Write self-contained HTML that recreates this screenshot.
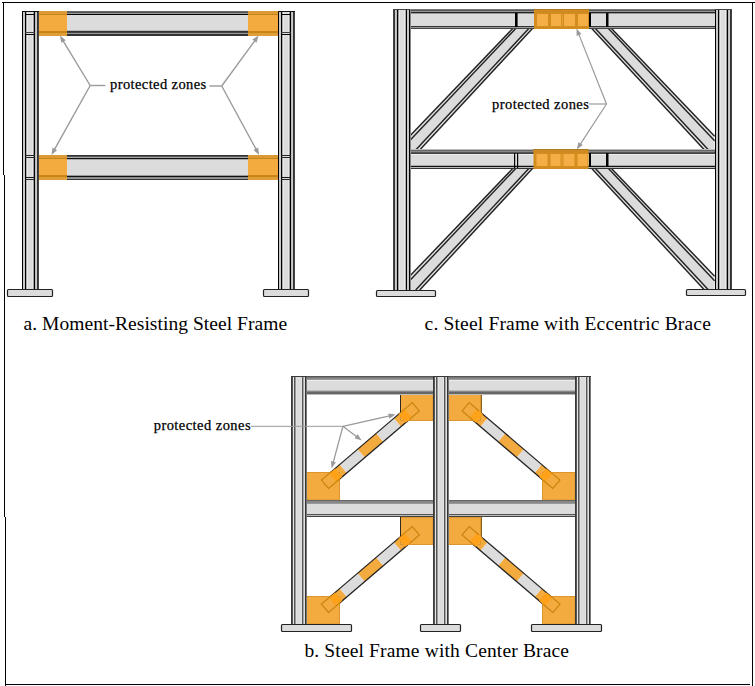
<!DOCTYPE html>
<html><head><meta charset="utf-8"><style>
html,body{margin:0;padding:0;background:#fff;}
svg{display:block;}
text{font-family:"Liberation Serif",serif;fill:#000;}
</style></head><body>
<svg width="755" height="686" viewBox="0 0 755 686">
<rect x="0" y="0" width="755" height="686" fill="#fff"/>
<rect x="2" y="2" width="753" height="1" fill="#000"/>
<rect x="3" y="2" width="1" height="173" fill="#000"/>
<rect x="4" y="175" width="1" height="342" fill="#000"/>
<rect x="5" y="517" width="1" height="169" fill="#000"/>
<rect x="752" y="2" width="1" height="684" fill="#000"/>
<rect x="5" y="684" width="745" height="1" fill="#000"/>
<rect x="39" y="11" width="239" height="1" fill="#666"/>
<rect x="39" y="12" width="239" height="1" fill="#555"/>
<rect x="39" y="13" width="239" height="1" fill="#999"/>
<rect x="39" y="14" width="239" height="1" fill="#000"/>
<rect x="39" y="15" width="239" height="1" fill="#dcdcdc"/>
<rect x="39" y="16" width="239" height="1" fill="#dcdcdc"/>
<rect x="39" y="17" width="239" height="1" fill="#dcdcdc"/>
<rect x="39" y="18" width="239" height="1" fill="#dcdcdc"/>
<rect x="39" y="19" width="239" height="1" fill="#dcdcdc"/>
<rect x="39" y="20" width="239" height="1" fill="#dcdcdc"/>
<rect x="39" y="21" width="239" height="1" fill="#dcdcdc"/>
<rect x="39" y="22" width="239" height="1" fill="#dcdcdc"/>
<rect x="39" y="23" width="239" height="1" fill="#dcdcdc"/>
<rect x="39" y="24" width="239" height="1" fill="#dcdcdc"/>
<rect x="39" y="25" width="239" height="1" fill="#dcdcdc"/>
<rect x="39" y="26" width="239" height="1" fill="#dcdcdc"/>
<rect x="39" y="27" width="239" height="1" fill="#dcdcdc"/>
<rect x="39" y="28" width="239" height="1" fill="#dcdcdc"/>
<rect x="39" y="29" width="239" height="1" fill="#dcdcdc"/>
<rect x="39" y="30" width="239" height="1" fill="#bbb"/>
<rect x="39" y="31" width="239" height="1" fill="#333"/>
<rect x="39" y="32" width="239" height="1" fill="#444"/>
<rect x="39" y="33" width="239" height="1" fill="#999"/>
<rect x="39" y="34" width="239" height="1" fill="#333"/>
<rect x="39" y="35" width="239" height="1" fill="#333"/>
<rect x="39" y="155" width="239" height="1" fill="#333"/>
<rect x="39" y="156" width="239" height="1" fill="#555"/>
<rect x="39" y="157" width="239" height="1" fill="#aaa"/>
<rect x="39" y="158" width="239" height="1" fill="#111"/>
<rect x="39" y="159" width="239" height="1" fill="#aaa"/>
<rect x="39" y="160" width="239" height="1" fill="#dcdcdc"/>
<rect x="39" y="161" width="239" height="1" fill="#dcdcdc"/>
<rect x="39" y="162" width="239" height="1" fill="#dcdcdc"/>
<rect x="39" y="163" width="239" height="1" fill="#dcdcdc"/>
<rect x="39" y="164" width="239" height="1" fill="#dcdcdc"/>
<rect x="39" y="165" width="239" height="1" fill="#dcdcdc"/>
<rect x="39" y="166" width="239" height="1" fill="#dcdcdc"/>
<rect x="39" y="167" width="239" height="1" fill="#dcdcdc"/>
<rect x="39" y="168" width="239" height="1" fill="#dcdcdc"/>
<rect x="39" y="169" width="239" height="1" fill="#dcdcdc"/>
<rect x="39" y="170" width="239" height="1" fill="#dcdcdc"/>
<rect x="39" y="171" width="239" height="1" fill="#dcdcdc"/>
<rect x="39" y="172" width="239" height="1" fill="#dcdcdc"/>
<rect x="39" y="173" width="239" height="1" fill="#dcdcdc"/>
<rect x="39" y="174" width="239" height="1" fill="#dcdcdc"/>
<rect x="39" y="175" width="239" height="1" fill="#999"/>
<rect x="39" y="176" width="239" height="1" fill="#111"/>
<rect x="39" y="177" width="239" height="1" fill="#888"/>
<rect x="39" y="178" width="239" height="1" fill="#999"/>
<rect x="39" y="179" width="239" height="1" fill="#333"/>
<rect x="39" y="11" width="28" height="25" fill="#f3aa3e"/>
<rect x="39" y="11" width="28" height="3" fill="#dc9a34"/>
<rect x="39" y="14" width="28" height="1" fill="#c98516"/>
<rect x="39" y="31" width="28" height="2" fill="#c98516"/>
<rect x="39" y="33" width="28" height="3" fill="#e09e38"/>
<rect x="248" y="11" width="30" height="25" fill="#f3aa3e"/>
<rect x="248" y="11" width="30" height="3" fill="#dc9a34"/>
<rect x="248" y="14" width="30" height="1" fill="#c98516"/>
<rect x="248" y="31" width="30" height="2" fill="#c98516"/>
<rect x="248" y="33" width="30" height="3" fill="#e09e38"/>
<rect x="39" y="155" width="28" height="25" fill="#f3aa3e"/>
<rect x="39" y="155" width="28" height="3" fill="#dc9a34"/>
<rect x="39" y="158" width="28" height="1" fill="#c98516"/>
<rect x="39" y="175" width="28" height="2" fill="#c98516"/>
<rect x="39" y="177" width="28" height="3" fill="#e09e38"/>
<rect x="248" y="155" width="30" height="25" fill="#f3aa3e"/>
<rect x="248" y="155" width="30" height="3" fill="#dc9a34"/>
<rect x="248" y="158" width="30" height="1" fill="#c98516"/>
<rect x="248" y="175" width="30" height="2" fill="#c98516"/>
<rect x="248" y="177" width="30" height="3" fill="#e09e38"/>
<rect x="22" y="11" width="1" height="278" fill="#000"/>
<rect x="23" y="11" width="1" height="278" fill="#c8c8c8"/>
<rect x="24" y="11" width="1" height="278" fill="#c8c8c8"/>
<rect x="25" y="11" width="1" height="278" fill="#000"/>
<rect x="26" y="11" width="1" height="278" fill="#aaa"/>
<rect x="27" y="11" width="1" height="278" fill="#e8e8e8"/>
<rect x="28" y="11" width="1" height="278" fill="#dcdcdc"/>
<rect x="29" y="11" width="1" height="278" fill="#dcdcdc"/>
<rect x="30" y="11" width="1" height="278" fill="#dcdcdc"/>
<rect x="31" y="11" width="1" height="278" fill="#dcdcdc"/>
<rect x="32" y="11" width="1" height="278" fill="#e8e8e8"/>
<rect x="33" y="11" width="1" height="278" fill="#999"/>
<rect x="34" y="11" width="1" height="278" fill="#000"/>
<rect x="35" y="11" width="1" height="278" fill="#bbb"/>
<rect x="36" y="11" width="1" height="278" fill="#ccc"/>
<rect x="37" y="11" width="1" height="278" fill="#333"/>
<rect x="38" y="11" width="1" height="278" fill="#444"/>
<rect x="278" y="11" width="1" height="278" fill="#000"/>
<rect x="279" y="11" width="1" height="278" fill="#c8c8c8"/>
<rect x="280" y="11" width="1" height="278" fill="#c8c8c8"/>
<rect x="281" y="11" width="1" height="278" fill="#000"/>
<rect x="282" y="11" width="1" height="278" fill="#aaa"/>
<rect x="283" y="11" width="1" height="278" fill="#e8e8e8"/>
<rect x="284" y="11" width="1" height="278" fill="#dcdcdc"/>
<rect x="285" y="11" width="1" height="278" fill="#dcdcdc"/>
<rect x="286" y="11" width="1" height="278" fill="#dcdcdc"/>
<rect x="287" y="11" width="1" height="278" fill="#dcdcdc"/>
<rect x="288" y="11" width="1" height="278" fill="#e8e8e8"/>
<rect x="289" y="11" width="1" height="278" fill="#999"/>
<rect x="290" y="11" width="1" height="278" fill="#000"/>
<rect x="291" y="11" width="1" height="278" fill="#bbb"/>
<rect x="292" y="11" width="1" height="278" fill="#ccc"/>
<rect x="293" y="11" width="1" height="278" fill="#333"/>
<rect x="294" y="11" width="1" height="278" fill="#444"/>
<rect x="22" y="11" width="17" height="1" fill="#111"/>
<rect x="25" y="14" width="10" height="1" fill="#000"/>
<rect x="25" y="32" width="10" height="1" fill="#3a3a3a"/>
<rect x="25" y="34" width="10" height="1" fill="#000"/>
<rect x="25" y="155" width="10" height="1" fill="#222"/>
<rect x="25" y="157" width="10" height="1" fill="#222"/>
<rect x="25" y="177" width="10" height="1" fill="#111"/>
<rect x="25" y="179" width="10" height="1" fill="#222"/>
<rect x="278" y="11" width="17" height="1" fill="#111"/>
<rect x="281" y="14" width="10" height="1" fill="#000"/>
<rect x="281" y="32" width="10" height="1" fill="#3a3a3a"/>
<rect x="281" y="34" width="10" height="1" fill="#000"/>
<rect x="281" y="155" width="10" height="1" fill="#222"/>
<rect x="281" y="157" width="10" height="1" fill="#222"/>
<rect x="281" y="177" width="10" height="1" fill="#111"/>
<rect x="281" y="179" width="10" height="1" fill="#222"/>
<rect x="7.5" y="289.5" width="45" height="7" rx="1" fill="#dcdcdc" stroke="#222" stroke-width="1.2"/>
<rect x="263.5" y="289.5" width="45" height="7" rx="1" fill="#dcdcdc" stroke="#222" stroke-width="1.2"/>
<polygon points="513.20,28.00 532.90,28.00 419.70,150.00 410.00,150.00 409.60,136.30" fill="#e4e4e4"/>
<polygon points="516.20,28.00 529.30,28.00 415.70,150.00 410.00,150.00 409.60,140.70" fill="#dcdcdc"/>
<polygon points="516.20,28.00 529.30,28.00 415.70,150.00 409.60,140.70" fill="#dcdcdc"/>
<line x1="513.20" y1="28.00" x2="409.60" y2="136.30" stroke="#222" stroke-width="1.45"/>
<line x1="516.20" y1="28.00" x2="409.60" y2="140.70" stroke="#222" stroke-width="1.45"/>
<line x1="529.30" y1="28.00" x2="415.70" y2="150.00" stroke="#222" stroke-width="1.45"/>
<line x1="532.90" y1="28.00" x2="419.70" y2="150.00" stroke="#222" stroke-width="1.45"/>
<polygon points="611.00,28.00 591.30,28.00 704.50,150.00 714.20,150.00 714.60,136.30" fill="#e4e4e4"/>
<polygon points="608.00,28.00 594.90,28.00 708.50,150.00 714.20,150.00 714.60,140.70" fill="#dcdcdc"/>
<polygon points="608.00,28.00 594.90,28.00 708.50,150.00 714.60,140.70" fill="#dcdcdc"/>
<line x1="611.00" y1="28.00" x2="714.60" y2="136.30" stroke="#222" stroke-width="1.45"/>
<line x1="608.00" y1="28.00" x2="714.60" y2="140.70" stroke="#222" stroke-width="1.45"/>
<line x1="594.90" y1="28.00" x2="708.50" y2="150.00" stroke="#222" stroke-width="1.45"/>
<line x1="591.30" y1="28.00" x2="704.50" y2="150.00" stroke="#222" stroke-width="1.45"/>
<polygon points="513.20,168.00 532.90,168.00 419.70,290.00 410.00,290.00 409.60,276.30" fill="#e4e4e4"/>
<polygon points="516.20,168.00 529.30,168.00 415.70,290.00 410.00,290.00 409.60,280.70" fill="#dcdcdc"/>
<polygon points="516.20,168.00 529.30,168.00 415.70,290.00 409.60,280.70" fill="#dcdcdc"/>
<line x1="513.20" y1="168.00" x2="409.60" y2="276.30" stroke="#222" stroke-width="1.45"/>
<line x1="516.20" y1="168.00" x2="409.60" y2="280.70" stroke="#222" stroke-width="1.45"/>
<line x1="529.30" y1="168.00" x2="415.70" y2="290.00" stroke="#222" stroke-width="1.45"/>
<line x1="532.90" y1="168.00" x2="419.70" y2="290.00" stroke="#222" stroke-width="1.45"/>
<polygon points="611.00,168.00 591.30,168.00 704.50,290.00 714.20,290.00 714.60,276.30" fill="#e4e4e4"/>
<polygon points="608.00,168.00 594.90,168.00 708.50,290.00 714.20,290.00 714.60,280.70" fill="#dcdcdc"/>
<polygon points="608.00,168.00 594.90,168.00 708.50,290.00 714.60,280.70" fill="#dcdcdc"/>
<line x1="611.00" y1="168.00" x2="714.60" y2="276.30" stroke="#222" stroke-width="1.45"/>
<line x1="608.00" y1="168.00" x2="714.60" y2="280.70" stroke="#222" stroke-width="1.45"/>
<line x1="594.90" y1="168.00" x2="708.50" y2="290.00" stroke="#222" stroke-width="1.45"/>
<line x1="591.30" y1="168.00" x2="704.50" y2="290.00" stroke="#222" stroke-width="1.45"/>
<rect x="410" y="9" width="305" height="1" fill="#777"/>
<rect x="410" y="10" width="305" height="1" fill="#555"/>
<rect x="410" y="11" width="305" height="1" fill="#999"/>
<rect x="410" y="12" width="305" height="1" fill="#222"/>
<rect x="410" y="13" width="305" height="1" fill="#999"/>
<rect x="410" y="14" width="305" height="1" fill="#dcdcdc"/>
<rect x="410" y="15" width="305" height="1" fill="#dcdcdc"/>
<rect x="410" y="16" width="305" height="1" fill="#dcdcdc"/>
<rect x="410" y="17" width="305" height="1" fill="#dcdcdc"/>
<rect x="410" y="18" width="305" height="1" fill="#dcdcdc"/>
<rect x="410" y="19" width="305" height="1" fill="#dcdcdc"/>
<rect x="410" y="20" width="305" height="1" fill="#dcdcdc"/>
<rect x="410" y="21" width="305" height="1" fill="#dcdcdc"/>
<rect x="410" y="22" width="305" height="1" fill="#dcdcdc"/>
<rect x="410" y="23" width="305" height="1" fill="#dcdcdc"/>
<rect x="410" y="24" width="305" height="1" fill="#dcdcdc"/>
<rect x="410" y="25" width="305" height="1" fill="#dcdcdc"/>
<rect x="410" y="26" width="305" height="1" fill="#333"/>
<rect x="410" y="27" width="305" height="1" fill="#999"/>
<rect x="410" y="28" width="305" height="1" fill="#444"/>
<rect x="410" y="149" width="305" height="1" fill="#bbb"/>
<rect x="410" y="150" width="305" height="1" fill="#666"/>
<rect x="410" y="151" width="305" height="1" fill="#888"/>
<rect x="410" y="152" width="305" height="1" fill="#555"/>
<rect x="410" y="153" width="305" height="1" fill="#444"/>
<rect x="410" y="154" width="305" height="1" fill="#eee"/>
<rect x="410" y="155" width="305" height="1" fill="#dcdcdc"/>
<rect x="410" y="156" width="305" height="1" fill="#dcdcdc"/>
<rect x="410" y="157" width="305" height="1" fill="#dcdcdc"/>
<rect x="410" y="158" width="305" height="1" fill="#dcdcdc"/>
<rect x="410" y="159" width="305" height="1" fill="#dcdcdc"/>
<rect x="410" y="160" width="305" height="1" fill="#dcdcdc"/>
<rect x="410" y="161" width="305" height="1" fill="#dcdcdc"/>
<rect x="410" y="162" width="305" height="1" fill="#dcdcdc"/>
<rect x="410" y="163" width="305" height="1" fill="#dcdcdc"/>
<rect x="410" y="164" width="305" height="1" fill="#dcdcdc"/>
<rect x="410" y="165" width="305" height="1" fill="#aaa"/>
<rect x="410" y="166" width="305" height="1" fill="#111"/>
<rect x="410" y="167" width="305" height="1" fill="#bbb"/>
<rect x="410" y="168" width="305" height="1" fill="#333"/>
<rect x="534" y="9" width="55" height="20" fill="#d38c1e"/>
<rect x="534" y="9" width="55" height="1" fill="#b07820"/>
<rect x="534" y="10" width="55" height="3" fill="#cf8a22"/>
<rect x="537" y="14" width="11" height="12" fill="#f5ad45"/>
<rect x="551" y="14" width="10" height="12" fill="#f5ad45"/>
<rect x="564" y="14" width="11" height="12" fill="#f5ad45"/>
<rect x="578" y="14" width="10" height="12" fill="#f5ad45"/>
<rect x="562" y="14" width="1" height="12" fill="#e8a030"/>
<rect x="533.5" y="149" width="55" height="20" fill="#d38c1e"/>
<rect x="533.5" y="149" width="55" height="1" fill="#b07820"/>
<rect x="533.5" y="150" width="55" height="3" fill="#cf8a22"/>
<rect x="536.5" y="154" width="11" height="12" fill="#f5ad45"/>
<rect x="550.5" y="154" width="10" height="12" fill="#f5ad45"/>
<rect x="563.5" y="154" width="11" height="12" fill="#f5ad45"/>
<rect x="577.5" y="154" width="10" height="12" fill="#f5ad45"/>
<rect x="561.5" y="154" width="1" height="12" fill="#e8a030"/>
<rect x="515" y="13" width="2.6" height="14" fill="#000"/>
<rect x="589" y="13" width="2" height="14" fill="#000"/>
<rect x="606" y="13" width="2.5" height="14" fill="#050505"/>
<rect x="514" y="153" width="1.2" height="15" fill="#000"/>
<rect x="517" y="153" width="1.2" height="15" fill="#000"/>
<rect x="589" y="153" width="2" height="14" fill="#000"/>
<rect x="606" y="153" width="2.5" height="14" fill="#050505"/>
<rect x="393" y="9" width="1" height="281" fill="#444"/>
<rect x="394" y="9" width="1" height="281" fill="#333"/>
<rect x="395" y="9" width="1" height="281" fill="#ccc"/>
<rect x="396" y="9" width="1" height="281" fill="#bbb"/>
<rect x="397" y="9" width="1" height="281" fill="#000"/>
<rect x="398" y="9" width="1" height="281" fill="#999"/>
<rect x="399" y="9" width="1" height="281" fill="#e8e8e8"/>
<rect x="400" y="9" width="1" height="281" fill="#dcdcdc"/>
<rect x="401" y="9" width="1" height="281" fill="#dcdcdc"/>
<rect x="402" y="9" width="1" height="281" fill="#dcdcdc"/>
<rect x="403" y="9" width="1" height="281" fill="#dcdcdc"/>
<rect x="404" y="9" width="1" height="281" fill="#e8e8e8"/>
<rect x="405" y="9" width="1" height="281" fill="#aaa"/>
<rect x="406" y="9" width="1" height="281" fill="#000"/>
<rect x="407" y="9" width="1" height="281" fill="#c8c8c8"/>
<rect x="408" y="9" width="1" height="281" fill="#c8c8c8"/>
<rect x="409" y="9" width="1" height="281" fill="#000"/>
<rect x="410" y="9" width="1" height="281" fill="#888"/>
<rect x="715" y="9" width="1" height="281" fill="#000"/>
<rect x="716" y="9" width="1" height="281" fill="#c8c8c8"/>
<rect x="717" y="9" width="1" height="281" fill="#c8c8c8"/>
<rect x="718" y="9" width="1" height="281" fill="#000"/>
<rect x="719" y="9" width="1" height="281" fill="#aaa"/>
<rect x="720" y="9" width="1" height="281" fill="#e8e8e8"/>
<rect x="721" y="9" width="1" height="281" fill="#dcdcdc"/>
<rect x="722" y="9" width="1" height="281" fill="#dcdcdc"/>
<rect x="723" y="9" width="1" height="281" fill="#dcdcdc"/>
<rect x="724" y="9" width="1" height="281" fill="#dcdcdc"/>
<rect x="725" y="9" width="1" height="281" fill="#e8e8e8"/>
<rect x="726" y="9" width="1" height="281" fill="#999"/>
<rect x="727" y="9" width="1" height="281" fill="#000"/>
<rect x="728" y="9" width="1" height="281" fill="#bbb"/>
<rect x="729" y="9" width="1" height="281" fill="#ccc"/>
<rect x="730" y="9" width="1" height="281" fill="#333"/>
<rect x="731" y="9" width="1" height="281" fill="#444"/>
<rect x="393" y="9" width="17" height="1" fill="#444"/>
<rect x="715" y="9" width="17" height="1" fill="#444"/>
<rect x="376.5" y="290.5" width="59" height="6" rx="1" fill="#dcdcdc" stroke="#222" stroke-width="1.2"/>
<rect x="686.5" y="289.5" width="59" height="6" rx="1" fill="#dcdcdc" stroke="#222" stroke-width="1.2"/>
<polygon points="321.43,480.12 339.68,464.53 346.82,472.90 328.57,488.48" fill="#f3aa3e"/>
<polygon points="339.68,464.53 357.70,449.14 364.84,457.51 346.82,472.90" fill="#dcdcdc"/>
<polygon points="357.70,449.14 376.18,433.36 383.32,441.72 364.84,457.51" fill="#f3aa3e"/>
<polygon points="376.18,433.36 393.90,418.23 401.04,426.59 383.32,441.72" fill="#dcdcdc"/>
<polygon points="393.90,418.23 412.18,402.62 419.32,410.98 401.04,426.59" fill="#f3aa3e"/>
<line x1="321.43" y1="480.12" x2="412.18" y2="402.62" stroke="#222" stroke-width="1.3"/>
<line x1="328.57" y1="488.48" x2="419.32" y2="410.98" stroke="#222" stroke-width="1.3"/>
<polygon points="552.83,488.48 534.58,472.90 541.72,464.53 559.97,480.12" fill="#f3aa3e"/>
<polygon points="534.58,472.90 516.56,457.51 523.70,449.14 541.72,464.53" fill="#dcdcdc"/>
<polygon points="516.56,457.51 498.08,441.72 505.22,433.36 523.70,449.14" fill="#f3aa3e"/>
<polygon points="498.08,441.72 480.36,426.59 487.50,418.23 505.22,433.36" fill="#dcdcdc"/>
<polygon points="480.36,426.59 462.08,410.98 469.22,402.62 487.50,418.23" fill="#f3aa3e"/>
<line x1="552.83" y1="488.48" x2="462.08" y2="410.98" stroke="#222" stroke-width="1.3"/>
<line x1="559.97" y1="480.12" x2="469.22" y2="402.62" stroke="#222" stroke-width="1.3"/>
<polygon points="321.43,604.12 339.68,588.53 346.82,596.90 328.57,612.48" fill="#f3aa3e"/>
<polygon points="339.68,588.53 357.70,573.14 364.84,581.51 346.82,596.90" fill="#dcdcdc"/>
<polygon points="357.70,573.14 376.18,557.36 383.32,565.72 364.84,581.51" fill="#f3aa3e"/>
<polygon points="376.18,557.36 393.90,542.23 401.04,550.59 383.32,565.72" fill="#dcdcdc"/>
<polygon points="393.90,542.23 412.18,526.62 419.32,534.98 401.04,550.59" fill="#f3aa3e"/>
<line x1="321.43" y1="604.12" x2="412.18" y2="526.62" stroke="#222" stroke-width="1.3"/>
<line x1="328.57" y1="612.48" x2="419.32" y2="534.98" stroke="#222" stroke-width="1.3"/>
<polygon points="552.83,612.48 534.58,596.90 541.72,588.53 559.97,604.12" fill="#f3aa3e"/>
<polygon points="534.58,596.90 516.56,581.51 523.70,573.14 541.72,588.53" fill="#dcdcdc"/>
<polygon points="516.56,581.51 498.08,565.72 505.22,557.36 523.70,573.14" fill="#f3aa3e"/>
<polygon points="498.08,565.72 480.36,550.59 487.50,542.23 505.22,557.36" fill="#dcdcdc"/>
<polygon points="480.36,550.59 462.08,534.98 469.22,526.62 487.50,542.23" fill="#f3aa3e"/>
<line x1="552.83" y1="612.48" x2="462.08" y2="534.98" stroke="#222" stroke-width="1.3"/>
<line x1="559.97" y1="604.12" x2="469.22" y2="526.62" stroke="#222" stroke-width="1.3"/>
<rect x="400.5" y="393.5" width="32.5" height="27.0" fill="#f3aa3e" stroke="#d9962c" stroke-width="1"/>
<rect x="448" y="393.5" width="32.5" height="27.0" fill="#f3aa3e" stroke="#d9962c" stroke-width="1"/>
<rect x="306" y="472.5" width="33.5" height="27.5" fill="#f3aa3e" stroke="#d9962c" stroke-width="1"/>
<rect x="542.5" y="472.5" width="32.5" height="27.5" fill="#f3aa3e" stroke="#d9962c" stroke-width="1"/>
<rect x="400.5" y="517.5" width="32.5" height="27.0" fill="#f3aa3e" stroke="#d9962c" stroke-width="1"/>
<rect x="448" y="517.5" width="32.5" height="27.0" fill="#f3aa3e" stroke="#d9962c" stroke-width="1"/>
<rect x="306" y="596.5" width="33.5" height="27.5" fill="#f3aa3e" stroke="#d9962c" stroke-width="1"/>
<rect x="542.5" y="596.5" width="32.5" height="27.5" fill="#f3aa3e" stroke="#d9962c" stroke-width="1"/>
<polygon points="329.03,473.62 335.12,468.43 342.26,476.79 336.18,481.99" fill="#ffa21a"/>
<polygon points="398.49,414.31 404.57,409.11 411.72,417.48 405.63,422.67" fill="#ffa21a"/>
<polyline points="331.31,471.68 321.43,480.12 328.57,488.48 339.98,478.74" fill="none" stroke="#c8840f" stroke-width="1.2"/>
<polyline points="400.77,412.36 412.18,402.62 419.32,410.98 409.44,419.42" fill="none" stroke="#c8840f" stroke-width="1.2"/>
<polygon points="545.22,481.99 539.14,476.79 546.28,468.43 552.37,473.62" fill="#ffa21a"/>
<polygon points="475.77,422.67 469.68,417.48 476.83,409.11 482.91,414.31" fill="#ffa21a"/>
<polyline points="542.94,480.04 552.83,488.48 559.97,480.12 548.57,470.38" fill="none" stroke="#c8840f" stroke-width="1.2"/>
<polyline points="473.48,420.72 462.08,410.98 469.22,402.62 479.11,411.06" fill="none" stroke="#c8840f" stroke-width="1.2"/>
<polygon points="329.03,597.62 335.12,592.43 342.26,600.79 336.18,605.99" fill="#ffa21a"/>
<polygon points="398.49,538.31 404.57,533.11 411.72,541.48 405.63,546.67" fill="#ffa21a"/>
<polyline points="331.31,595.68 321.43,604.12 328.57,612.48 339.98,602.74" fill="none" stroke="#c8840f" stroke-width="1.2"/>
<polyline points="400.77,536.36 412.18,526.62 419.32,534.98 409.44,543.42" fill="none" stroke="#c8840f" stroke-width="1.2"/>
<polygon points="545.22,605.99 539.14,600.79 546.28,592.43 552.37,597.62" fill="#ffa21a"/>
<polygon points="475.77,546.67 469.68,541.48 476.83,533.11 482.91,538.31" fill="#ffa21a"/>
<polyline points="542.94,604.04 552.83,612.48 559.97,604.12 548.57,594.38" fill="none" stroke="#c8840f" stroke-width="1.2"/>
<polyline points="473.48,544.72 462.08,534.98 469.22,526.62 479.11,535.06" fill="none" stroke="#c8840f" stroke-width="1.2"/>
<rect x="400" y="393" width="1" height="19.5" fill="#2e2a22"/>
<rect x="481" y="393" width="1" height="19.5" fill="#8a6420"/>
<rect x="400" y="517" width="1" height="19.5" fill="#2e2a22"/>
<rect x="481" y="517" width="1" height="19.5" fill="#8a6420"/>
<rect x="306" y="376" width="127" height="1" fill="#555"/>
<rect x="306" y="377" width="127" height="1" fill="#777"/>
<rect x="306" y="378" width="127" height="1" fill="#888"/>
<rect x="306" y="379" width="127" height="1" fill="#999"/>
<rect x="306" y="380" width="127" height="1" fill="#eee"/>
<rect x="306" y="381" width="127" height="1" fill="#dcdcdc"/>
<rect x="306" y="382" width="127" height="1" fill="#dcdcdc"/>
<rect x="306" y="383" width="127" height="1" fill="#dcdcdc"/>
<rect x="306" y="384" width="127" height="1" fill="#dcdcdc"/>
<rect x="306" y="385" width="127" height="1" fill="#dcdcdc"/>
<rect x="306" y="386" width="127" height="1" fill="#dcdcdc"/>
<rect x="306" y="387" width="127" height="1" fill="#dcdcdc"/>
<rect x="306" y="388" width="127" height="1" fill="#dcdcdc"/>
<rect x="306" y="389" width="127" height="1" fill="#dcdcdc"/>
<rect x="306" y="390" width="127" height="1" fill="#bbb"/>
<rect x="306" y="391" width="127" height="1" fill="#888"/>
<rect x="306" y="392" width="127" height="1" fill="#666"/>
<rect x="306" y="393" width="127" height="1" fill="#666"/>
<rect x="306" y="394" width="127" height="1" fill="#bbb"/>
<rect x="448" y="376" width="127" height="1" fill="#555"/>
<rect x="448" y="377" width="127" height="1" fill="#777"/>
<rect x="448" y="378" width="127" height="1" fill="#888"/>
<rect x="448" y="379" width="127" height="1" fill="#999"/>
<rect x="448" y="380" width="127" height="1" fill="#eee"/>
<rect x="448" y="381" width="127" height="1" fill="#dcdcdc"/>
<rect x="448" y="382" width="127" height="1" fill="#dcdcdc"/>
<rect x="448" y="383" width="127" height="1" fill="#dcdcdc"/>
<rect x="448" y="384" width="127" height="1" fill="#dcdcdc"/>
<rect x="448" y="385" width="127" height="1" fill="#dcdcdc"/>
<rect x="448" y="386" width="127" height="1" fill="#dcdcdc"/>
<rect x="448" y="387" width="127" height="1" fill="#dcdcdc"/>
<rect x="448" y="388" width="127" height="1" fill="#dcdcdc"/>
<rect x="448" y="389" width="127" height="1" fill="#dcdcdc"/>
<rect x="448" y="390" width="127" height="1" fill="#bbb"/>
<rect x="448" y="391" width="127" height="1" fill="#888"/>
<rect x="448" y="392" width="127" height="1" fill="#666"/>
<rect x="448" y="393" width="127" height="1" fill="#666"/>
<rect x="448" y="394" width="127" height="1" fill="#bbb"/>
<rect x="306" y="500" width="127" height="1" fill="#666"/>
<rect x="306" y="501" width="127" height="1" fill="#888"/>
<rect x="306" y="502" width="127" height="1" fill="#888"/>
<rect x="306" y="503" width="127" height="1" fill="#999"/>
<rect x="306" y="504" width="127" height="1" fill="#dcdcdc"/>
<rect x="306" y="505" width="127" height="1" fill="#dcdcdc"/>
<rect x="306" y="506" width="127" height="1" fill="#dcdcdc"/>
<rect x="306" y="507" width="127" height="1" fill="#dcdcdc"/>
<rect x="306" y="508" width="127" height="1" fill="#dcdcdc"/>
<rect x="306" y="509" width="127" height="1" fill="#dcdcdc"/>
<rect x="306" y="510" width="127" height="1" fill="#dcdcdc"/>
<rect x="306" y="511" width="127" height="1" fill="#dcdcdc"/>
<rect x="306" y="512" width="127" height="1" fill="#dcdcdc"/>
<rect x="306" y="513" width="127" height="1" fill="#dcdcdc"/>
<rect x="306" y="514" width="127" height="1" fill="#555"/>
<rect x="306" y="515" width="127" height="1" fill="#bbb"/>
<rect x="306" y="516" width="127" height="1" fill="#444"/>
<rect x="448" y="500" width="127" height="1" fill="#666"/>
<rect x="448" y="501" width="127" height="1" fill="#888"/>
<rect x="448" y="502" width="127" height="1" fill="#888"/>
<rect x="448" y="503" width="127" height="1" fill="#999"/>
<rect x="448" y="504" width="127" height="1" fill="#dcdcdc"/>
<rect x="448" y="505" width="127" height="1" fill="#dcdcdc"/>
<rect x="448" y="506" width="127" height="1" fill="#dcdcdc"/>
<rect x="448" y="507" width="127" height="1" fill="#dcdcdc"/>
<rect x="448" y="508" width="127" height="1" fill="#dcdcdc"/>
<rect x="448" y="509" width="127" height="1" fill="#dcdcdc"/>
<rect x="448" y="510" width="127" height="1" fill="#dcdcdc"/>
<rect x="448" y="511" width="127" height="1" fill="#dcdcdc"/>
<rect x="448" y="512" width="127" height="1" fill="#dcdcdc"/>
<rect x="448" y="513" width="127" height="1" fill="#dcdcdc"/>
<rect x="448" y="514" width="127" height="1" fill="#555"/>
<rect x="448" y="515" width="127" height="1" fill="#bbb"/>
<rect x="448" y="516" width="127" height="1" fill="#444"/>
<rect x="291" y="376" width="1" height="248" fill="#3a3a3a"/>
<rect x="292" y="376" width="1" height="248" fill="#555"/>
<rect x="293" y="376" width="1" height="248" fill="#e6e6e6"/>
<rect x="294" y="376" width="1" height="248" fill="#555"/>
<rect x="295" y="376" width="1" height="248" fill="#999"/>
<rect x="296" y="376" width="1" height="248" fill="#e0e0e0"/>
<rect x="297" y="376" width="1" height="248" fill="#dcdcdc"/>
<rect x="298" y="376" width="1" height="248" fill="#dcdcdc"/>
<rect x="299" y="376" width="1" height="248" fill="#dcdcdc"/>
<rect x="300" y="376" width="1" height="248" fill="#dcdcdc"/>
<rect x="301" y="376" width="1" height="248" fill="#e4e4e4"/>
<rect x="302" y="376" width="1" height="248" fill="#555"/>
<rect x="303" y="376" width="1" height="248" fill="#aaa"/>
<rect x="304" y="376" width="1" height="248" fill="#e0e0e0"/>
<rect x="305" y="376" width="1" height="248" fill="#333"/>
<rect x="306" y="376" width="1" height="248" fill="#777"/>
<rect x="433" y="376" width="1" height="248" fill="#3a3a3a"/>
<rect x="434" y="376" width="1" height="248" fill="#555"/>
<rect x="435" y="376" width="1" height="248" fill="#e6e6e6"/>
<rect x="436" y="376" width="1" height="248" fill="#555"/>
<rect x="437" y="376" width="1" height="248" fill="#999"/>
<rect x="438" y="376" width="1" height="248" fill="#e0e0e0"/>
<rect x="439" y="376" width="1" height="248" fill="#dcdcdc"/>
<rect x="440" y="376" width="1" height="248" fill="#dcdcdc"/>
<rect x="441" y="376" width="1" height="248" fill="#dcdcdc"/>
<rect x="442" y="376" width="1" height="248" fill="#dcdcdc"/>
<rect x="443" y="376" width="1" height="248" fill="#e4e4e4"/>
<rect x="444" y="376" width="1" height="248" fill="#555"/>
<rect x="445" y="376" width="1" height="248" fill="#aaa"/>
<rect x="446" y="376" width="1" height="248" fill="#e0e0e0"/>
<rect x="447" y="376" width="1" height="248" fill="#333"/>
<rect x="448" y="376" width="1" height="248" fill="#777"/>
<rect x="575" y="376" width="1" height="248" fill="#3a3a3a"/>
<rect x="576" y="376" width="1" height="248" fill="#555"/>
<rect x="577" y="376" width="1" height="248" fill="#e6e6e6"/>
<rect x="578" y="376" width="1" height="248" fill="#555"/>
<rect x="579" y="376" width="1" height="248" fill="#999"/>
<rect x="580" y="376" width="1" height="248" fill="#e0e0e0"/>
<rect x="581" y="376" width="1" height="248" fill="#dcdcdc"/>
<rect x="582" y="376" width="1" height="248" fill="#dcdcdc"/>
<rect x="583" y="376" width="1" height="248" fill="#dcdcdc"/>
<rect x="584" y="376" width="1" height="248" fill="#dcdcdc"/>
<rect x="585" y="376" width="1" height="248" fill="#e4e4e4"/>
<rect x="586" y="376" width="1" height="248" fill="#555"/>
<rect x="587" y="376" width="1" height="248" fill="#aaa"/>
<rect x="588" y="376" width="1" height="248" fill="#e0e0e0"/>
<rect x="589" y="376" width="1" height="248" fill="#333"/>
<rect x="590" y="376" width="1" height="248" fill="#777"/>
<rect x="291" y="376" width="16" height="1" fill="#3a3a3a"/>
<rect x="433" y="376" width="16" height="1" fill="#3a3a3a"/>
<rect x="575" y="376" width="16" height="1" fill="#3a3a3a"/>
<rect x="281.5" y="624.5" width="70" height="7" rx="1" fill="#dcdcdc" stroke="#222" stroke-width="1.2"/>
<rect x="420.5" y="624.5" width="40" height="7" rx="1" fill="#dcdcdc" stroke="#222" stroke-width="1.2"/>
<rect x="531.5" y="624.5" width="70" height="7" rx="1" fill="#dcdcdc" stroke="#222" stroke-width="1.2"/>
<line x1="90.20" y1="85.50" x2="105.30" y2="85.50" stroke="#9a9a9a" stroke-width="1.4"/>
<line x1="90.20" y1="85.50" x2="62.49" y2="39.78" stroke="#9a9a9a" stroke-width="1.4"/>
<polygon points="59.90,35.50 65.75,40.14 61.30,42.83" fill="#9a9a9a"/>
<line x1="90.20" y1="85.50" x2="53.84" y2="150.63" stroke="#9a9a9a" stroke-width="1.4"/>
<polygon points="51.40,155.00 52.54,147.62 57.08,150.16" fill="#9a9a9a"/>
<line x1="209.40" y1="86.00" x2="221.70" y2="86.00" stroke="#9a9a9a" stroke-width="1.4"/>
<line x1="221.70" y1="86.00" x2="255.65" y2="39.54" stroke="#9a9a9a" stroke-width="1.4"/>
<polygon points="258.60,35.50 256.57,42.69 252.37,39.62" fill="#9a9a9a"/>
<line x1="221.70" y1="86.00" x2="256.81" y2="150.61" stroke="#9a9a9a" stroke-width="1.4"/>
<polygon points="259.20,155.00 253.57,150.09 258.14,147.61" fill="#9a9a9a"/>
<line x1="589.20" y1="104.00" x2="606.50" y2="104.00" stroke="#9a9a9a" stroke-width="1.2"/>
<line x1="606.50" y1="104.00" x2="578.35" y2="33.15" stroke="#9a9a9a" stroke-width="1.2"/>
<polygon points="576.50,28.50 581.50,34.05 576.67,35.97" fill="#9a9a9a"/>
<line x1="606.50" y1="104.00" x2="579.53" y2="145.31" stroke="#9a9a9a" stroke-width="1.2"/>
<polygon points="576.80,149.50 578.45,142.22 582.80,145.06" fill="#9a9a9a"/>
<line x1="251.00" y1="426.30" x2="342.90" y2="426.30" stroke="#9a9a9a" stroke-width="1.0"/>
<line x1="342.90" y1="426.30" x2="390.72" y2="415.68" stroke="#9a9a9a" stroke-width="1.3"/>
<polygon points="395.60,414.60 389.33,418.66 388.20,413.58" fill="#9a9a9a"/>
<line x1="342.90" y1="426.30" x2="357.71" y2="437.49" stroke="#9a9a9a" stroke-width="1.3"/>
<polygon points="361.70,440.50 354.55,438.36 357.68,434.21" fill="#9a9a9a"/>
<line x1="342.90" y1="426.30" x2="332.90" y2="463.57" stroke="#9a9a9a" stroke-width="1.3"/>
<polygon points="331.60,468.40 330.90,460.97 335.93,462.31" fill="#9a9a9a"/>
<text x="110" y="88.6" font-size="14.5" letter-spacing="0.4" stroke="#000" stroke-width="0.25">protected zones</text>
<text x="492" y="108.7" font-size="14.5" letter-spacing="0.45" stroke="#000" stroke-width="0.25">protected zones</text>
<text x="153.7" y="430.3" font-size="14.5" letter-spacing="0.45" stroke="#000" stroke-width="0.25">protected zones</text>
<text x="23.5" y="330" font-size="19.5" letter-spacing="0.05">a. Moment-Resisting Steel Frame</text>
<text x="424.6" y="329.7" font-size="19.5" letter-spacing="0.17">c. Steel Frame with Eccentric Brace</text>
<text x="304.4" y="656.5" font-size="19.5" letter-spacing="0.15">b. Steel Frame with Center Brace</text>
</svg>
</body></html>
